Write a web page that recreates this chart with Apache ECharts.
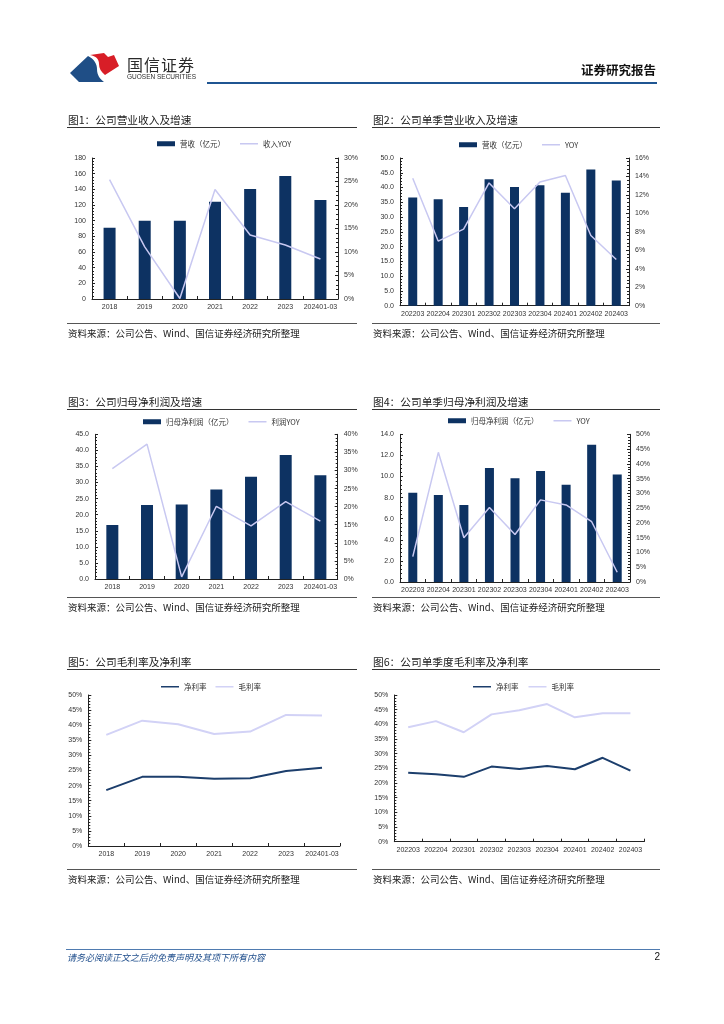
<!DOCTYPE html>
<html><head><meta charset="utf-8">
<script src="https://cdn.jsdelivr.net/npm/echarts@6/dist/echarts.min.js"></script>
<style>
html,body{margin:0;padding:0;background:#fff;}
#page{position:relative;width:724px;height:1024px;overflow:hidden;background:#fff;font-family:"Noto Sans CJK SC","Noto Sans",sans-serif;}
#chart{position:absolute;left:0;top:0;width:724px;height:1024px;}
.t{position:absolute;white-space:nowrap;line-height:1;color:#222;}
.ln{position:absolute;height:0;}
</style>
</head><body>
<div id="page">
<div id="chart"></div>
</div>
<script>
// ---------- data ----------
const annualCats = ['2018','2019','2020','2021','2022','2023','202401-03'];
const quarterCats = ['202203','202204','202301','202302','202303','202304','202401','202402','202403'];
const annualRevenue = [91, 100, 100, 124, 140.4, 157, 126.4];
const annualRevenueYoy = [25.4, 11.1, 0.1, 23.3, 13.6, 11.5, 8.5];
const quarterRevenue = [36.6, 36.0, 33.4, 42.8, 40.2, 40.8, 38.2, 46.1, 42.4];
const quarterRevenueYoy = [13.8, 7.0, 8.3, 13.3, 10.5, 13.4, 14.1, 7.6, 5.0];
const annualProfit = [16.8, 23.0, 23.2, 27.8, 31.8, 38.6, 32.3];
const annualProfitYoy = [30.5, 37.3, 0.6, 20.1, 14.7, 21.4, 16.0];
const quarterProfit = [8.46, 8.25, 7.3, 10.8, 9.83, 10.52, 9.22, 13.0, 10.2];
const quarterProfitYoy = [8.6, 43.9, 15.0, 25.2, 16.1, 27.8, 26.1, 20.4, 3.3];
const annualNetMargin = [18.5, 22.9, 22.9, 22.3, 22.4, 24.8, 25.9];
const annualGrossMargin = [36.8, 41.5, 40.3, 37.1, 37.9, 43.4, 43.2];
const quarterNetMargin = [23.5, 23.0, 22.1, 25.6, 24.8, 25.8, 24.7, 28.6, 24.2];
const quarterGrossMargin = [39.0, 41.1, 37.3, 43.4, 44.8, 46.9, 42.4, 43.8, 43.8];

const titles = ['图1：公司营业收入及增速','图2：公司单季营业收入及增速','图3：公司归母净利润及增速','图4：公司单季归母净利润及增速','图5：公司毛利率及净利率','图6：公司单季度毛利率及净利率'];
const sourceText = '资料来源：公司公告、Wind、国信证券经济研究所整理';

// ---------- page furniture ----------
const page = document.getElementById('page');
function text(s, x, yc, size, opts) {
  opts = opts || {};
  const d = document.createElement('div');
  d.className = 't';
  d.textContent = s;
  d.style.fontSize = size + 'px';
  d.style.top = (yc - size * 0.5) + 'px';
  if (opts.right != null) { d.style.right = (724 - opts.right) + 'px'; } else { d.style.left = x + 'px'; }
  if (opts.color) d.style.color = opts.color;
  if (opts.bold) d.style.fontWeight = 'bold';
  if (opts.italic) d.style.fontStyle = 'italic';
  if (opts.family) d.style.fontFamily = opts.family;
  if (opts.ls) d.style.letterSpacing = opts.ls + 'px';
  page.appendChild(d);
}
function hline(x1, x2, y, w, color) {
  const d = document.createElement('div');
  d.className = 'ln';
  d.style.left = x1 + 'px'; d.style.width = (x2 - x1) + 'px';
  d.style.top = (y - w / 2) + 'px';
  d.style.borderTop = w + 'px solid ' + color;
  page.appendChild(d);
}
// logo
const svgNS = 'http://www.w3.org/2000/svg';
const svg = document.createElementNS(svgNS, 'svg');
svg.setAttribute('width', '724'); svg.setAttribute('height', '100');
svg.style.position = 'absolute'; svg.style.left = '0'; svg.style.top = '0';
svg.innerHTML = '<path d="M70,73 L88,56 C94,59 97,64 97,69 C97,75 100,79 104,82 L79,82 Z" fill="#1f4e86"/>' +
  '<path d="M90,55 L104,53 L108,57 L114,55 L119,66 L105,75 C101,72 99,68 99,64 C99,59 96,56 90,55 Z" fill="#d81e27"/>';
page.appendChild(svg);
text('国信证券', 127, 64, 16, {color:'#2a2a2a', ls:1});
text('GUOSEN SECURITIES', 127, 77, 6.5, {color:'#2a2a2a', family:'"Liberation Sans",Arial,sans-serif'});
text('证券研究报告', 0, 70, 12.5, {right:656, bold:true, color:'#111'});
hline(207, 657, 83, 2.5, '#1f5592');

// chart titles, rules and sources
const colX = [[67, 357], [372, 660]];
const rows = [{title:120, rule:128, srcLine:323, src:334}, {title:402, rule:410, srcLine:597, src:608}, {title:662, rule:670, srcLine:869, src:880}];
for (let r = 0; r < 3; r++) {
  for (let c = 0; c < 2; c++) {
    const [x1, x2] = colX[c];
    text(titles[r * 2 + c], x1 + 1, rows[r].title, 10.7, {color:'#1a1a1a'});
    hline(x1, x2, rows[r].rule, 1.2, '#333');
    hline(x1, x2, rows[r].srcLine, 1, '#555');
    text(sourceText, x1 + 1, rows[r].src, 9.5, {color:'#1a1a1a'});
  }
}
// footer
hline(66, 660, 949, 1, '#4f7bb0');
text('请务必阅读正文之后的免责声明及其项下所有内容', 67, 957, 9, {italic:true, color:'#1f4e8c'});
text('2', 0, 957, 10, {right:660, color:'#111', family:'"Liberation Sans",Arial,sans-serif'});

// ---------- charts ----------
const BAR = '#0d3262';
const LAV = '#c8c8f1';
const NAVY = '#1c3e6c';
const LAV2 = '#d2d2f6';
const AX = '#222';
const labelFont = {fontSize:7, color:'#333', fontFamily:'"Liberation Sans",Arial,sans-serif'};
// thin line icon for legend (tiny marks at top/bottom keep the bounding box 18x5)
const LINE_ICON = 'path://M0,0 L18,0 L18,0.02 L0,0.02 Z M0,1.8 L18,1.8 L18,3.2 L0,3.2 Z M0,4.98 L18,4.98 L18,5 L0,5 Z';

const grids = [
  {left:92, top:158, width:246, height:141},
  {left:400, top:158, width:229, height:147.7},
  {left:95, top:434.3, width:242.7, height:144.7},
  {left:400, top:434.3, width:230, height:147.7},
  {left:88.3, top:695, width:251.7, height:151},
  {left:394.3, top:695, width:250, height:146.7}
];
function xAxis(gi, cats) {
  return {type:'category', gridIndex:gi, data:cats, boundaryGap:true,
    axisLine:{show:true, lineStyle:{color:AX, width:1}},
    axisTick:{show:true, inside:true, length:3, alignWithLabel:false, lineStyle:{color:AX}},
    axisLabel:Object.assign({interval:0, margin:5}, labelFont),
    splitLine:{show:false}};
}
function yAxis(gi, max, interval, fmt, pos) {
  return {type:'value', gridIndex:gi, min:0, max:max, interval:interval, position:pos || 'left',
    axisLine:{show:true, lineStyle:{color:AX, width:1}},
    axisTick:{show:true, inside:true, length:3, lineStyle:{color:AX}},
    minorTick:{show:true, splitNumber:5, length:2, lineStyle:{color:AX}},
    axisLabel:Object.assign({margin:6, formatter:fmt}, labelFont),
    splitLine:{show:false}};
}
const f0 = v => String(v);
const f1 = v => v.toFixed(1);
const fp = v => v + '%';

const xAxes = [xAxis(0, annualCats), xAxis(1, quarterCats), xAxis(2, annualCats), xAxis(3, quarterCats), xAxis(4, annualCats), xAxis(5, quarterCats)];
const yAxes = [
  yAxis(0, 180, 20, f0), yAxis(0, 30, 5, fp, 'right'),
  yAxis(1, 50, 5, f1), yAxis(1, 16, 2, fp, 'right'),
  yAxis(2, 45, 5, f1), yAxis(2, 40, 5, fp, 'right'),
  yAxis(3, 14, 2, f1), yAxis(3, 50, 5, fp, 'right'),
  yAxis(4, 50, 5, fp),
  yAxis(5, 50, 5, fp)
];
function bar(name, xi, yi, data, w) {
  return {type:'bar', name:name, xAxisIndex:xi, yAxisIndex:yi, data:data, barWidth:w, itemStyle:{color:BAR}, silent:true};
}
function line(name, xi, yi, data, color, w) {
  return {type:'line', name:name, xAxisIndex:xi, yAxisIndex:yi, data:data, symbol:'none', lineStyle:{color:color, width:w}, itemStyle:{color:color}, silent:true, z:5};
}
const series = [
  bar('营收（亿元）', 0, 0, annualRevenue, 12), line('收入YOY', 0, 1, annualRevenueYoy, LAV, 1.5),
  bar('营收（亿元）', 1, 2, quarterRevenue, 9), line('YOY', 1, 3, quarterRevenueYoy, LAV, 1.5),
  bar('归母净利润（亿元）', 2, 4, annualProfit, 12), line('利润YOY', 2, 5, annualProfitYoy, LAV, 1.5),
  bar('归母净利润（亿元）', 3, 6, quarterProfit, 9), line('YOY', 3, 7, quarterProfitYoy, LAV, 1.5),
  line('净利率', 4, 8, annualNetMargin, NAVY, 2), line('毛利率', 4, 8, annualGrossMargin, LAV2, 2),
  line('净利率', 5, 9, quarterNetMargin, NAVY, 2), line('毛利率', 5, 9, quarterGrossMargin, LAV2, 2)
];
const legTxt = {fontSize:7.5, color:'#333', fontFamily:'"Noto Sans CJK SC",sans-serif'};
const lineNames = ['收入YOY', 'YOY', '利润YOY', '净利率', '毛利率'];
function legend(names, left, yc, gap) {
  const data = names.map(n => lineNames.indexOf(n) >= 0 ? {name:n, icon:LINE_ICON} : {name:n, icon:'rect'});
  return {data:data, left:left, top:yc - 5, itemWidth:18, itemHeight:5, itemGap:gap, textStyle:legTxt, selectedMode:false, padding:0};
}
const legends = [
  legend(['营收（亿元）', '收入YOY'], 157, 145, 15),
  legend(['营收（亿元）', 'YOY'], 459, 146, 15),
  legend(['归母净利润（亿元）', '利润YOY'], 143, 423, 15),
  legend(['归母净利润（亿元）', 'YOY'], 448, 422, 15),
  legend(['净利率', '毛利率'], 161, 688, 9),
  legend(['净利率', '毛利率'], 473, 688, 10)
];

const chart = echarts.init(document.getElementById('chart'), null, {renderer:'canvas', width:724, height:1024});
chart.setOption({
  animation:false,
  backgroundColor:'transparent',
  grid:grids,
  xAxis:xAxes,
  yAxis:yAxes,
  legend:legends,
  series:series
});
</script>
</body></html>
